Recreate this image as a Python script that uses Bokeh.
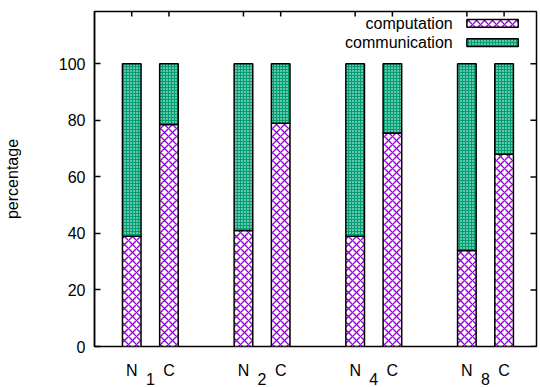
from bokeh.plotting import figure
from bokeh.models import Range1d, FixedTicker, LinearAxis
from bokeh.core.properties import value
from bokeh.embed import file_html
from bokeh.resources import INLINE

# ---- data ----
procs = ["1", "2", "4", "8"]
modes = ["N", "C"]
computation_N = [39, 41, 39, 34]
computation_C = [78.5, 79, 75.5, 68]
total = 100
yticks = [0, 20, 40, 60, 80, 100]
series_names = ["computation", "communication"]

FONT = "Liberation Sans"
PURPLE = "#9400d3"
GREEN = "#009e73"

# ---- layout ----
W, H = 540, 387
LEFT, RIGHT, TOP, BOTTOM = 94, 4, 11, 37
FW, FH = W - LEFT - RIGHT, H - TOP - BOTTOM
X0, X1 = -1.0, 10.87
Y0, Y1 = 0, 118.5
px_x = (X1 - X0) / FW
px_y = (Y1 - Y0) / FH

# positions: N and C bars of each group, groups separated by a gap
xs, comp, labels = [], [], {}
for i, pr in enumerate(procs):
    for j, (m, vals) in enumerate(zip(modes, [computation_N, computation_C])):
        x = 3 * i + j
        xs.append(x)
        comp.append(vals[i])
        labels[x] = m
tops = [total] * len(xs)
centers = [3 * i + 0.5 for i in range(len(procs))]
sub_labels = {c: pr for c, pr in zip(centers, procs)}

p = figure(width=W, height=H, output_backend="svg", toolbar_location=None,
           x_range=Range1d(X0, X1), y_range=Range1d(Y0, Y1),
           x_axis_location=None,
           min_border_left=LEFT, min_border_right=RIGHT, min_border_top=TOP,
           min_border_bottom=BOTTOM)
p.grid.visible = False
p.outline_line_color = "black"
p.outline_line_width = 1.5
p.outline_line_alpha = 1

# bars
p.vbar(x=xs, width=0.5, bottom=0, top=comp, fill_color="white",
       hatch_pattern="x", hatch_color=PURPLE, hatch_scale=8, hatch_weight=1.3,
       line_color="black", line_width=1.5)
p.vbar(x=xs, width=0.5, bottom=comp, top=tops, fill_color=GREEN,
       hatch_pattern=".", hatch_color="white", hatch_scale=3, hatch_weight=1,
       line_color="black", line_width=1.5)

# y axis
ya = p.yaxis[0]
ya.axis_line_width = 1.5
ya.major_tick_line_width = 1.5
ya.major_tick_out = 0
ya.major_tick_in = 6
ya.minor_tick_line_color = None
ya.major_label_text_font = FONT
ya.major_label_text_font_size = "16px"
ya.major_label_text_color = "black"
ya.ticker = FixedTicker(ticks=yticks)
ya.axis_label = "percentage"
ya.axis_label_text_font = FONT
ya.axis_label_text_font_style = "normal"
ya.axis_label_text_font_size = "16px"
ya.axis_label_text_color = "black"
ya.axis_label_standoff = 35
ya.major_label_standoff = 9

# x axes: subscripts (group numbers) nearest the frame, N/C labels pulled up above them
sub_ax = LinearAxis(ticker=FixedTicker(ticks=centers), major_label_overrides=sub_labels,
                    axis_line_color=None, major_tick_line_color=None,
                    minor_tick_line_color=None, major_tick_in=0, major_tick_out=0,
                    major_label_standoff=26, major_label_text_font=FONT,
                    major_label_text_font_size="16px", major_label_text_color="black")
nc_ax = LinearAxis(ticker=FixedTicker(ticks=xs), major_label_overrides=labels,
                   axis_line_color=None, major_tick_line_color=None,
                   minor_tick_line_color=None, major_tick_in=0, major_tick_out=0,
                   major_label_standoff=-26, major_label_text_font=FONT,
                   major_label_text_font_size="16px", major_label_text_color="black")
p.add_layout(sub_ax, "below")
p.add_layout(nc_ax, "below")

# mirrored tics (inward) on top and right edges
p.segment(x0=xs, x1=xs, y0=[Y1] * len(xs), y1=[Y1 - 5 * px_y] * len(xs),
          line_color="black", line_width=1.5)
p.segment(x0=[X1] * len(yticks), x1=[X1 - 6 * px_x] * len(yticks), y0=yticks, y1=yticks,
          line_color="black", line_width=1.5)

# key (top right, text right-aligned, sample on right)
p.text(x=[8.62, 8.62], y=[114.3, 107.5], text=series_names, text_align="right",
       text_baseline="middle", text_font=value(FONT), text_font_size="16px", text_color="black")
p.quad(left=[9.0], right=[10.38], bottom=[112.9], top=[115.7], fill_color="white",
       hatch_pattern="x", hatch_color=PURPLE, hatch_scale=8, hatch_weight=1.3,
       line_color="black", line_width=1.5)
p.quad(left=[9.0], right=[10.38], bottom=[106.1], top=[108.9], fill_color=GREEN,
       hatch_pattern=".", hatch_color="white", hatch_scale=3, hatch_weight=1,
       line_color="black", line_width=1.5)

open("out.html", "w").write(file_html(p, INLINE))
